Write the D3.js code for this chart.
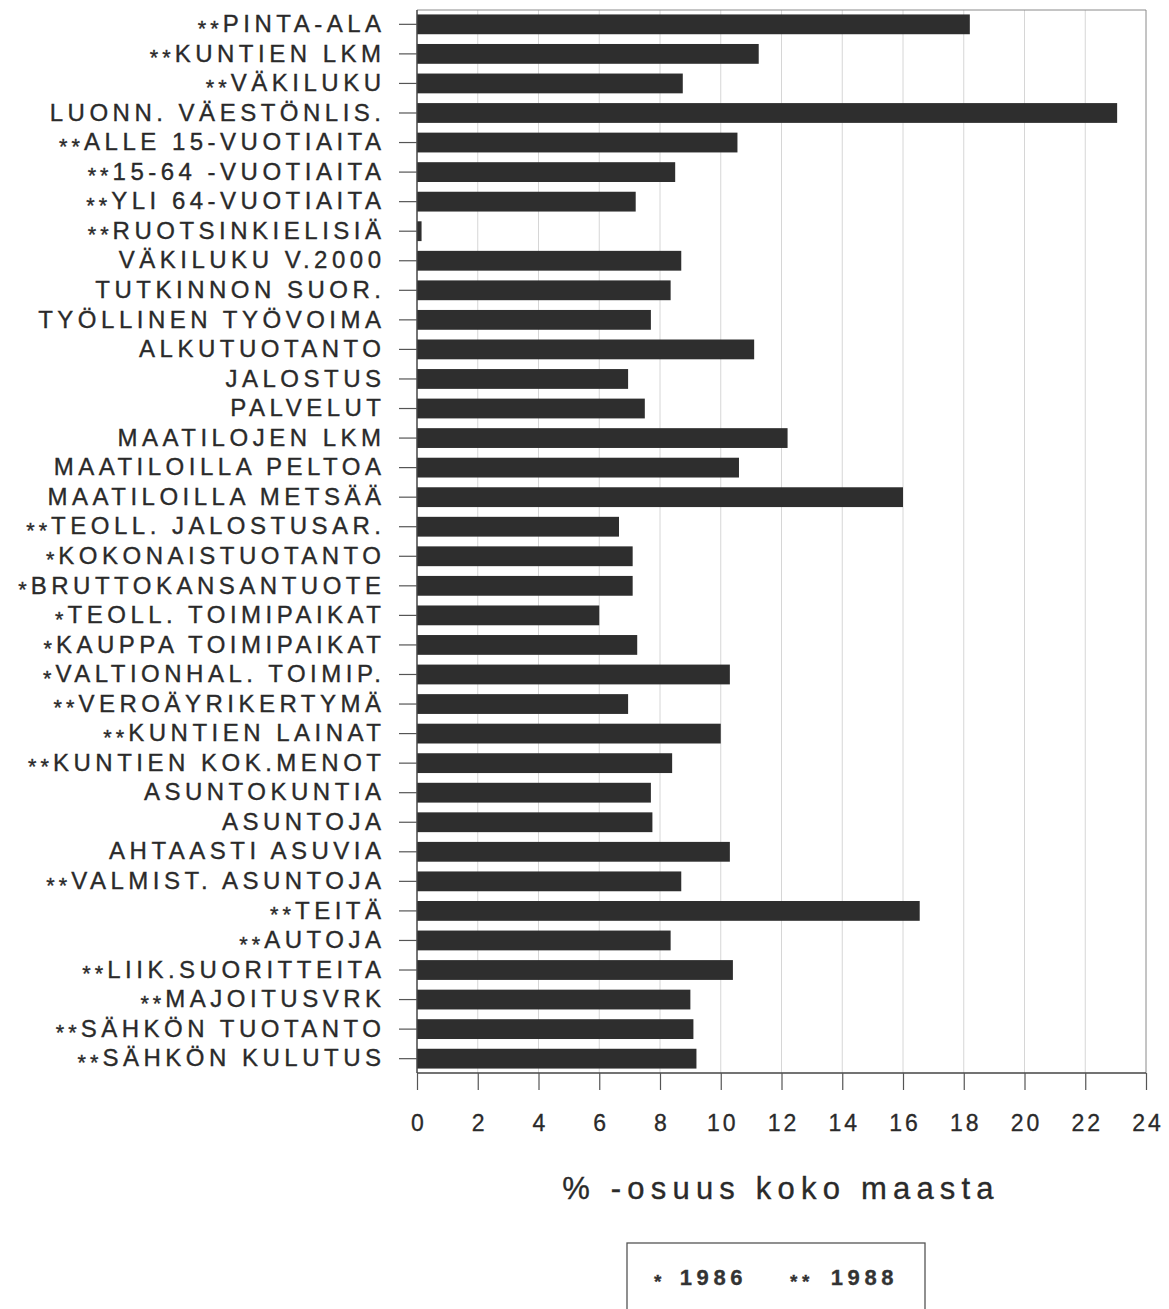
<!DOCTYPE html>
<html><head><meta charset="utf-8">
<script src="https://cdn.jsdelivr.net/npm/d3@7"></script>
<style>
body{margin:0;background:#fff;}
svg{display:block;}
</style></head>
<body>
<svg id="c" width="1169" height="1309"></svg>
<script>
const categories = ["**PINTA-ALA","**KUNTIEN LKM","**VÄKILUKU","LUONN. VÄESTÖNLIS.","**ALLE 15-VUOTIAITA","**15-64 -VUOTIAITA","**YLI 64-VUOTIAITA","**RUOTSINKIELISIÄ","VÄKILUKU V.2000","TUTKINNON SUOR.","TYÖLLINEN TYÖVOIMA","ALKUTUOTANTO","JALOSTUS","PALVELUT","MAATILOJEN LKM","MAATILOILLA PELTOA","MAATILOILLA METSÄÄ","**TEOLL. JALOSTUSAR.","*KOKONAISTUOTANTO","*BRUTTOKANSANTUOTE","*TEOLL. TOIMIPAIKAT","*KAUPPA TOIMIPAIKAT","*VALTIONHAL. TOIMIP.","**VEROÄYRIKERTYMÄ","**KUNTIEN LAINAT","**KUNTIEN KOK.MENOT","ASUNTOKUNTIA","ASUNTOJA","AHTAASTI ASUVIA","**VALMIST. ASUNTOJA","**TEITÄ","**AUTOJA","**LIIK.SUORITTEITA","**MAJOITUSVRK","**SÄHKÖN TUOTANTO","**SÄHKÖN KULUTUS"];
const values = [18.2,11.25,8.75,23.05,10.55,8.5,7.2,0.15,8.7,8.35,7.7,11.1,6.95,7.5,12.2,10.6,16.0,6.65,7.1,7.1,6.0,7.25,10.3,6.95,10.0,8.4,7.7,7.75,10.3,8.7,16.55,8.35,10.4,9.0,9.1,9.2];
const xTicks = [0,2,4,6,8,10,12,14,16,18,20,22,24];
const axisTitle = "% -osuus koko maasta";
const legendItems = ["* 1986","** 1988"];

const svg = d3.select("#c");
const pL = 417, pR = 1146, pT = 10, pB = 1073;
const x = d3.scaleLinear().domain([0,24]).range([pL,pR]);
const y = d3.scaleBand().domain(categories).range([pT,pB]).paddingInner(0.33).paddingOuter(0.15);
const FONT = "'Liberation Sans',Arial,sans-serif";
const INK = "#2a2a2a";

// split leading asterisks into a small, lowered tspan (as in the original typeface)
function starText(sel, label, size, ls, baseDy){
  const m = label.match(/^(\*+)(\s?)(.*)$/);
  sel.text(null);
  if(m){
    const shift = 3.5;
    sel.attr("dy", null);
    sel.append("tspan").text(m[1]).style("font-size",(size*0.9)+"px")
      .attr("dy",(baseDy+shift)+"px").style("letter-spacing",(ls*0.9)+"px");
    sel.append("tspan").text(m[2]+m[3]).attr("dy",(-shift)+"px");
  } else {
    sel.text(label);
  }
}

// gridlines
svg.append("g").selectAll("line").data(xTicks.slice(1,-1)).join("line")
  .attr("x1",d=>x(d)).attr("x2",d=>x(d)).attr("y1",pT).attr("y2",pB)
  .attr("stroke","#d6d6d6").attr("stroke-width",1);
// frame top/right
svg.append("line").attr("x1",pL).attr("x2",pR).attr("y1",pT).attr("y2",pT).attr("stroke","#8a8a8a");
svg.append("line").attr("x1",pR).attr("x2",pR).attr("y1",pT).attr("y2",pB).attr("stroke","#8a8a8a");

// bars
svg.append("g").selectAll("rect").data(categories).join("rect")
  .attr("x",x(0)).attr("y",d=>y(d)).attr("height",y.bandwidth())
  .attr("width",(d,i)=>Math.max(2.5,x(values[i])-x(0)))
  .attr("fill","#2e2e2e");

// y axis
const LLS = 4.5, LFS = 24;
const yAxis = svg.append("g").attr("transform",`translate(${pL},0)`)
  .call(d3.axisLeft(y).tickSize(18).tickPadding(18));
yAxis.select(".domain").attr("stroke","#444").attr("stroke-width",1.5).attr("d",`M0,${pT}V${pB}`);
yAxis.selectAll(".tick line").attr("stroke","#555").attr("stroke-width",1.2);
yAxis.selectAll(".tick text").attr("fill",INK).attr("stroke",INK).attr("stroke-width",0.35)
  .style("font-family",FONT).style("font-size",LFS+"px")
  .style("letter-spacing",LLS+"px").attr("dx",LLS+"px")
  .each(function(d){ starText(d3.select(this), d, LFS, LLS, LFS*0.32); });

// x axis
const TLS = 3;
const xAxis = svg.append("g").attr("transform",`translate(0,${pB})`)
  .call(d3.axisBottom(x).tickValues(xTicks).tickSize(17).tickPadding(25));
xAxis.select(".domain").attr("stroke","#444").attr("stroke-width",1.5).attr("d",`M${pL},0H${pR}`);
xAxis.selectAll(".tick line").attr("stroke","#555").attr("stroke-width",1.2);
xAxis.selectAll(".tick text").attr("fill",INK).attr("stroke",INK).attr("stroke-width",0.3)
  .style("font-family",FONT).style("font-size","23px")
  .style("letter-spacing",TLS+"px").attr("dx",(TLS/2)+"px");

// axis title
svg.append("text").attr("x",781).attr("y",1199).attr("text-anchor","middle")
  .attr("fill",INK).attr("stroke",INK).attr("stroke-width",0.35).style("font-family",FONT)
  .style("font-size","31px").style("letter-spacing","6.2px").text(axisTitle);

// legend
svg.append("rect").attr("x",627).attr("y",1243).attr("width",298).attr("height",90)
  .attr("fill","none").attr("stroke","#555").attr("stroke-width",1.3);
const legX = [654, 790];
legendItems.forEach((t,i)=>{
  const m = t.match(/^(\*+)\s(.*)$/);
  const tx = svg.append("text").attr("x",legX[i]).attr("y",1285).attr("fill","#333")
    .attr("stroke","#333").attr("stroke-width",0.3)
    .style("font-family",FONT).style("font-size","22px").style("font-weight","bold")
    .style("letter-spacing","4.6px");
  tx.append("tspan").text(m[1]).style("font-size","19px").attr("dy","3");
  tx.append("tspan").text(" "+m[2]).attr("dy","-3").attr("dx",i===0?"3":"6");
});
</script>
</body></html>
